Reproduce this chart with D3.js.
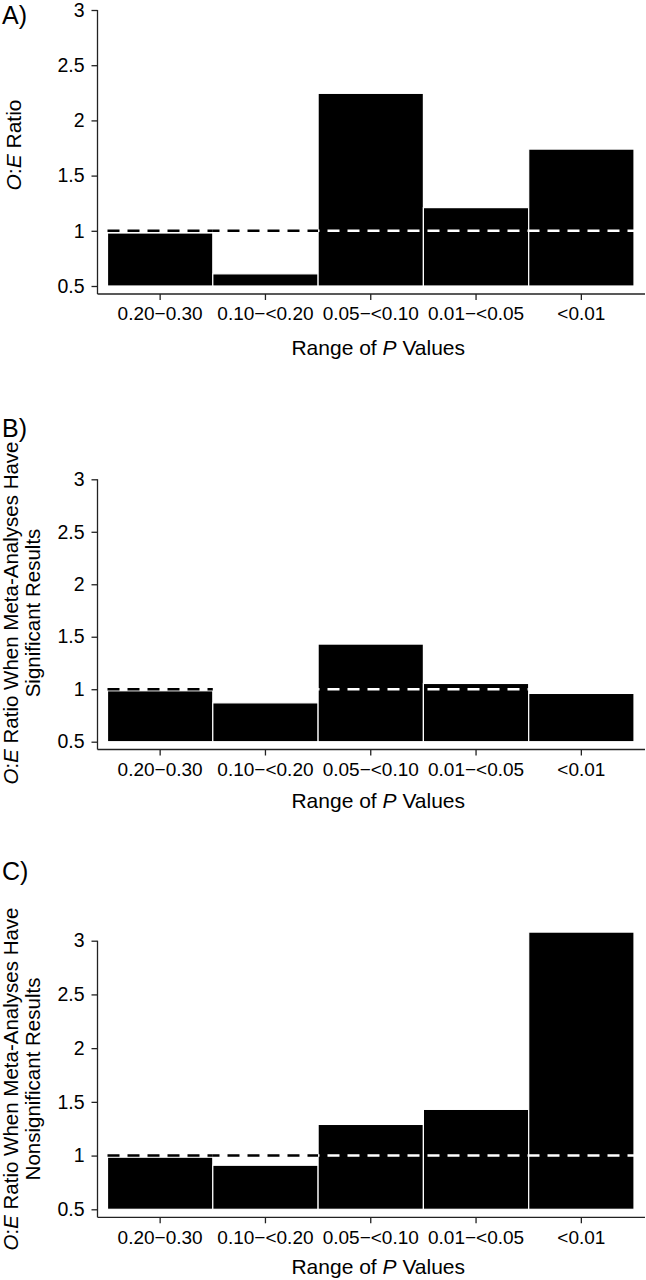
<!DOCTYPE html>
<html>
<head>
<meta charset="utf-8">
<script src="https://cdn.jsdelivr.net/npm/d3@7"></script>
<style>
  html, body { margin: 0; padding: 0; background: #fff; }
  svg { display: block; }
  text { font-family: "Liberation Sans", Arial, Helvetica, sans-serif; fill: #000; }
</style>
</head>
<body>
<svg id="chart" width="646" height="1280"></svg>
<script>
// ---- data ----
const categories = ["0.20\u22120.30", "0.10\u2212<0.20", "0.05\u2212<0.10", "0.01\u2212<0.05", "<0.01"];
const yTicks = [0.5, 1, 1.5, 2, 2.5, 3];
const yTickLabels = ["0.5", "1", "1.5", "2", "2.5", "3"];
const referenceValue = 1;

const valuesA = [0.98, 0.61, 2.245, 1.21, 1.74];
const valuesB = [0.985, 0.87, 1.43, 1.055, 0.96];
const valuesC = [0.985, 0.91, 1.29, 1.43, 3.08];

// categories over which the dashed reference line is drawn
const refCatsA = categories.slice();
const refCatsB = ["0.20\u22120.30", "0.05\u2212<0.10", "0.01\u2212<0.05"];
const refCatsC = categories.slice();

const panelLetters = ["A)", "B)", "C)"];
const yTitlesA = [["O", ":", "E", " Ratio"]];
const yTitleLine1 = ["O", ":", "E", " Ratio When Meta-Analyses Have"];
const yTitlesB = [yTitleLine1, ["Significant Results"]];
const yTitlesC = [yTitleLine1, ["Nonsignificant Results"]];
const xTitleParts = ["Range of ", "P", " Values"];

// ---- layout ----
const panels = [
  { values: valuesA, refCats: refCatsA, letter: panelLetters[0], yTitle: yTitlesA,
    y3: 10, y05: 286, axisY: 294, titleCY: 145, letterY: 24, xTitleDY: 61 },
  { values: valuesB, refCats: refCatsB, letter: panelLetters[1], yTitle: yTitlesB,
    y3: 479.3, y05: 741.7, axisY: 749.5, titleCY: 613, letterY: 437, xTitleDY: 58 },
  { values: valuesC, refCats: refCatsC, letter: panelLetters[2], yTitle: yTitlesC,
    y3: 940.7, y05: 1209.3, axisY: 1217.3, titleCY: 1079, letterY: 880, xTitleDY: 57 }
];

const svg = d3.select("#chart");
const axisX = 97.5, axisRight = 645;
const x = d3.scaleBand().domain(categories).range([107.5, 634]).padding(0);

panels.forEach(p => {
  const g = svg.append("g");
  const y = d3.scaleLinear().domain([0.5, 3]).range([p.y05, p.y3]);

  // bars
  g.selectAll("rect.bar").data(categories).join("rect")
    .attr("class", "bar")
    .attr("x", d => x(d))
    .attr("width", x.bandwidth())
    .attr("y", (d, i) => y(p.values[i]))
    .attr("height", (d, i) => y(0.5) - y(p.values[i]))
    .attr("fill", "#000")
    .attr("stroke", "#fff")
    .attr("stroke-width", 1.2);

  // dashed reference line: white over bars, black over background
  const x0 = x.range()[0];
  p.refCats.forEach(c => {
    const i = categories.indexOf(c);
    const over = p.values[i] > referenceValue;
    g.append("line")
      .attr("x1", x(c)).attr("x2", x(c) + x.bandwidth())
      .attr("y1", y(referenceValue)).attr("y2", y(referenceValue))
      .attr("stroke", over ? "#fff" : "#000")
      .attr("stroke-width", 2.5)
      .attr("stroke-dasharray", "12,8")
      .attr("stroke-dashoffset", x(c) - x0);
  });

  // y axis
  const yAxis = d3.axisLeft(y).tickValues(yTicks)
    .tickFormat((d, i) => yTickLabels[i]).tickSize(6).tickPadding(7);
  const ya = g.append("g").attr("transform", `translate(${axisX},0)`).call(yAxis);
  ya.select(".domain").remove();
  ya.selectAll("line").attr("stroke", "#222").attr("stroke-width", 1.3);
  ya.selectAll("text").attr("font-size", 19.5);
  g.append("line").attr("x1", axisX).attr("x2", axisX)
    .attr("y1", y(3)).attr("y2", p.axisY)
    .attr("stroke", "#222").attr("stroke-width", 1.3);

  // x axis
  const xAxis = d3.axisBottom(x).tickSize(6).tickPadding(7);
  const xa = g.append("g").attr("transform", `translate(0,${p.axisY})`).call(xAxis);
  xa.select(".domain").remove();
  xa.selectAll("line").attr("stroke", "#222").attr("stroke-width", 1.3);
  xa.selectAll("text").attr("font-size", 19);
  g.append("line").attr("x1", axisX).attr("x2", axisRight)
    .attr("y1", p.axisY).attr("y2", p.axisY)
    .attr("stroke", "#222").attr("stroke-width", 1.3);

  // x title
  const xt = g.append("text")
    .attr("x", (axisX + axisRight) / 2 + 7)
    .attr("y", p.axisY + p.xTitleDY)
    .attr("text-anchor", "middle")
    .attr("font-size", 21);
  xTitleParts.forEach((t, k) => {
    xt.append("tspan").text(t).attr("font-style", k === 1 ? "italic" : "normal");
  });

  // y title (rotated)
  const nLines = p.yTitle.length;
  p.yTitle.forEach((parts, li) => {
    const bx = nLines === 1 ? 21 : (li === 0 ? 18 : 40);
    const t = g.append("text")
      .attr("transform", `translate(${bx},${p.titleCY}) rotate(-90)`)
      .attr("text-anchor", "middle")
      .attr("font-size", nLines === 1 ? 21 : 20.5);
    parts.forEach((s, k) => {
      const italic = (li === 0 && (s === "O" || s === "E"));
      t.append("tspan").text(s).attr("font-style", italic ? "italic" : "normal");
    });
  });

  // panel letter
  g.append("text").attr("x", 2).attr("y", p.letterY)
    .attr("font-size", 25).text(p.letter);
});
</script>
</body>
</html>
